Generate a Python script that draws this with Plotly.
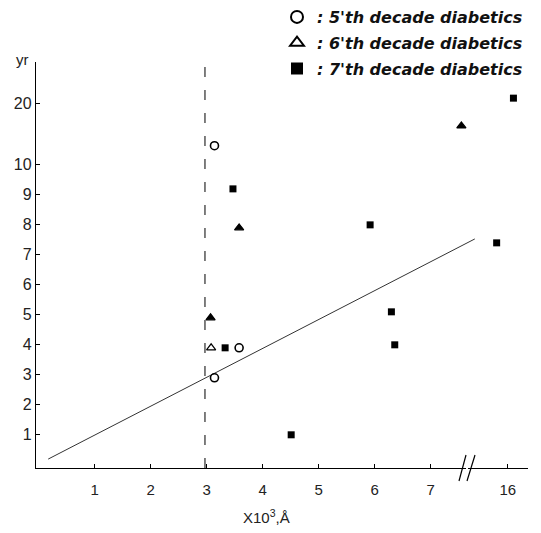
import plotly.graph_objects as go

x_tick_vals = [1, 2, 3, 4, 5, 6, 7, 16]
y_tick_vals = [1, 2, 3, 4, 5, 6, 7, 8, 9, 10, 20]

dec5_x = [3.14, 3.58, 3.14]
dec5_y = [13.1, 3.9, 2.9]

dec6_x = [3.08, 3.07, 3.58, 7.55]
dec6_y = [3.9, 4.9, 7.9, 16.3]
dec6_open = [True, False, False, False]

dec7_x = [3.47, 3.33, 4.51, 5.92, 6.30, 6.36, 15.8, 16.1]
dec7_y = [9.2, 3.9, 1.0, 8.0, 5.1, 4.0, 7.4, 20.8]

# regression line end points (in axis units)
reg_x = [0.17, 7.79]
reg_y = [0.19, 7.53]

threshold_x = 2.97

# ---- broken-axis transforms ----
def xpos(v):
    return v if v <= 7.6 else 8.38 + (v - 16)

def ypos(v):
    return v if v <= 10 else 10 + (v - 10) * 0.206

FONT = "Liberation Sans"
LEG_FONT = "DejaVu Sans"

fig = go.Figure()

fig.add_trace(go.Scatter(
    x=reg_x, y=reg_y, mode="lines", line=dict(color="#333", width=1),
    showlegend=False, hoverinfo="skip"))

fig.add_trace(go.Scatter(
    x=[xpos(v) for v in dec5_x], y=[ypos(v) for v in dec5_y], mode="markers",
    name="<b><i>: 5'th decade diabetics</i></b>", legendgroup="g5",
    marker=dict(symbol="circle-open", size=8, color="black", line=dict(width=1.6))))

fig.add_trace(go.Scatter(
    x=[xpos(v) for v in dec6_x], y=[ypos(v) for v in dec6_y], mode="markers",
    name="<b><i>: 6'th decade diabetics</i></b>", legendgroup="g6",
    marker=dict(symbol=["triangle-up-open" if o else "triangle-up" for o in dec6_open],
                size=8, color="black", line=dict(width=1.2, color="black"))))

fig.add_trace(go.Scatter(
    x=[xpos(v) for v in dec7_x], y=[ypos(v) for v in dec7_y], mode="markers",
    name="<b><i>: 7'th decade diabetics</i></b>", legendgroup="g7",
    marker=dict(symbol="square", size=7, color="black")))

# page offset (browser body margin) and plot-area geometry in screen pixels
OFF = 8
SW, SH = 541, 533
W, H = SW - OFF, SH - OFF
L, R, T, B = 36 - OFF, 528 - OFF, 62 - OFF, 468 - OFF

def px2paper_x(px):
    return (px - OFF - L) / (R - L)

def px2paper_y(py):
    return (B - (py - OFF)) / (B - T)

shapes = [
    dict(type="line", xref="x", yref="paper", x0=threshold_x, x1=threshold_x,
         y0=0, y1=1, line=dict(color="#555", width=1.5, dash="10px,13px")),
    dict(type="line", xref="paper", yref="paper",
         x0=px2paper_x(466), x1=px2paper_x(468), y0=0, y1=0,
         line=dict(color="white", width=4)),
    dict(type="line", xref="paper", yref="paper",
         x0=px2paper_x(459), y0=px2paper_y(481), x1=px2paper_x(466), y1=px2paper_y(455),
         line=dict(color="black", width=1.2)),
    dict(type="line", xref="paper", yref="paper",
         x0=px2paper_x(467), y0=px2paper_y(481), x1=px2paper_x(475), y1=px2paper_y(455),
         line=dict(color="black", width=1.2)),
]

annotations = [
    dict(text="yr", xref="paper", yref="paper", x=px2paper_x(22), y=px2paper_y(60),
         xanchor="center", yanchor="middle",
         showarrow=False, font=dict(family=FONT, size=15, color="#222")),
    dict(text="X10<sup>3</sup>,Å", xref="paper", yref="paper",
         x=px2paper_x(266), y=px2paper_y(516), xanchor="center", yanchor="middle",
         showarrow=False, font=dict(family=FONT, size=15, color="#222")),
]

fig.update_layout(
    width=W, height=H, autosize=False,
    margin=dict(l=L, r=W - R, t=T, b=H - B, autoexpand=False),
    paper_bgcolor="white", plot_bgcolor="white",
    shapes=shapes, annotations=annotations,
    showlegend=True,
    legend=dict(x=px2paper_x(277), y=px2paper_y(0), xanchor="left", yanchor="top",
                font=dict(family=LEG_FONT, size=16, color="#111"),
                bgcolor="rgba(0,0,0,0)", itemsizing="constant",
                traceorder="grouped", tracegroupgap=2),
    xaxis=dict(range=[-0.048, 8.74], tickvals=[xpos(v) for v in x_tick_vals],
               ticktext=[str(v) for v in x_tick_vals],
               ticks="inside", ticklen=4, tickcolor="black", tickwidth=1,
               showline=True, linecolor="black", linewidth=1.3,
               showgrid=False, zeroline=False, ticklabelstandoff=8,
               tickfont=dict(family=FONT, size=15, color="#222")),
    yaxis=dict(range=[-0.107, 13.43], tickvals=[ypos(v) for v in y_tick_vals],
               ticktext=[str(v) for v in y_tick_vals],
               ticks="inside", ticklen=4, tickcolor="black", tickwidth=1,
               showline=True, linecolor="black", linewidth=1.3,
               showgrid=False, zeroline=False, ticklabelstandoff=0,
               tickfont=dict(family=FONT, size=16, color="#222")),
)

fig.write_html("out.html")
